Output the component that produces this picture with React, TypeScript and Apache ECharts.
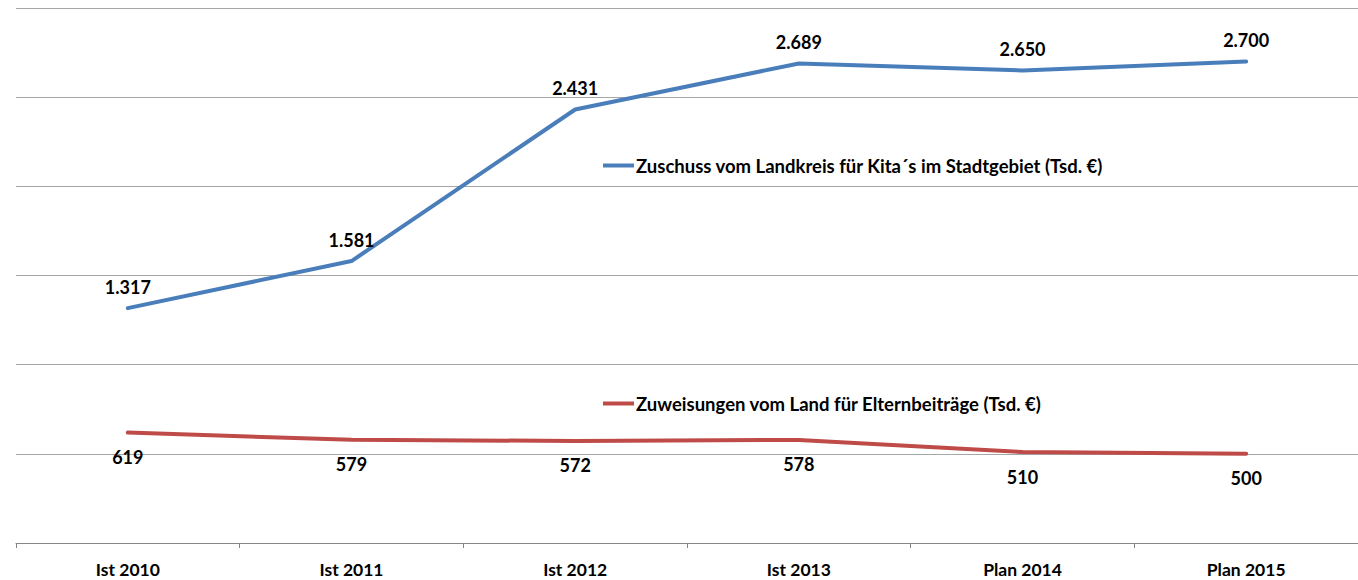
import React, { useEffect, useRef } from "react";
import * as echarts from "echarts";

const categories = ["Ist 2010", "Ist 2011", "Ist 2012", "Ist 2013", "Plan 2014", "Plan 2015"];
const zuschussName = "Zuschuss vom Landkreis für Kita´s im Stadtgebiet (Tsd. €)";
const zuweisungName = "Zuweisungen vom Land für Elternbeiträge (Tsd. €)";
const zuschussValues = [1317, 1581, 2431, 2689, 2650, 2700];
const zuweisungValues = [619, 579, 572, 578, 510, 500];

const fmt = (v: number) => String(Math.round(v)).replace(/\B(?=(\d{3})+(?!\d))/g, ".");
const FONT = "Lato";

export default function App() {
  const ref = useRef<HTMLDivElement>(null);
  useEffect(() => {
    if (!ref.current) return;
    const chart = echarts.init(ref.current, undefined, { renderer: "svg" });
    const legendText = { fontFamily: FONT, fontWeight: "bold", fontSize: 18.5, color: "#000", padding: [0, 0, 0, -3] };
    chart.setOption({
      animation: false,
      backgroundColor: "#ffffff",
      textStyle: { fontFamily: FONT },
      grid: { left: 16, right: -2, top: 8, bottom: 37, containLabel: false },
      legend: [
        {
          data: [zuschussName],
          left: 603,
          top: 156,
          icon: "rect",
          itemWidth: 31,
          itemHeight: 4,
          padding: 0,
          textStyle: legendText,
        },
        {
          data: [zuweisungName],
          left: 603,
          top: 394,
          icon: "rect",
          itemWidth: 31,
          itemHeight: 4,
          padding: 0,
          textStyle: legendText,
        },
      ],
      xAxis: {
        type: "category",
        data: categories,
        boundaryGap: true,
        axisLine: { show: true, lineStyle: { color: "#868686", width: 1 } },
        axisTick: { show: true, length: 5, lineStyle: { color: "#868686" } },
        axisLabel: { fontFamily: FONT, fontWeight: "bold", fontSize: 17.5, color: "#000", margin: 17 },
        splitLine: { show: false },
      },
      yAxis: {
        type: "value",
        min: 0,
        max: 3000,
        interval: 500,
        axisLine: { show: false },
        axisTick: { show: false },
        axisLabel: { show: false },
        splitLine: { show: true, lineStyle: { color: "#a6a6a6", width: 1 } },
      },
      series: [
        {
          name: zuschussName,
          type: "line",
          data: zuschussValues,
          symbol: "circle",
          symbolSize: 1,
          showSymbol: true,
          color: "#4a7ebb",
          itemStyle: { color: "#4a7ebb" },
          lineStyle: { width: 4, color: "#4a7ebb", cap: "round" },
          label: {
            show: true,
            position: "top",
            distance: 12,
            formatter: (p: any) => fmt(p.value),
            fontFamily: FONT,
            fontWeight: "bold",
            fontSize: 18,
            color: "#000",
          },
        },
        {
          name: zuweisungName,
          type: "line",
          data: zuweisungValues,
          symbol: "circle",
          symbolSize: 1,
          showSymbol: true,
          color: "#be4b48",
          itemStyle: { color: "#be4b48" },
          lineStyle: { width: 4, color: "#be4b48", cap: "round" },
          label: {
            show: true,
            position: "bottom",
            distance: 15,
            formatter: (p: any) => fmt(p.value),
            fontFamily: FONT,
            fontWeight: "bold",
            fontSize: 18,
            color: "#000",
          },
        },
      ],
    });
    return () => chart.dispose();
  }, []);
  return (
    <div
      ref={ref}
      style={{ position: "absolute", left: 0, top: 0, width: 1358, height: 580 }}
    />
  );
}
